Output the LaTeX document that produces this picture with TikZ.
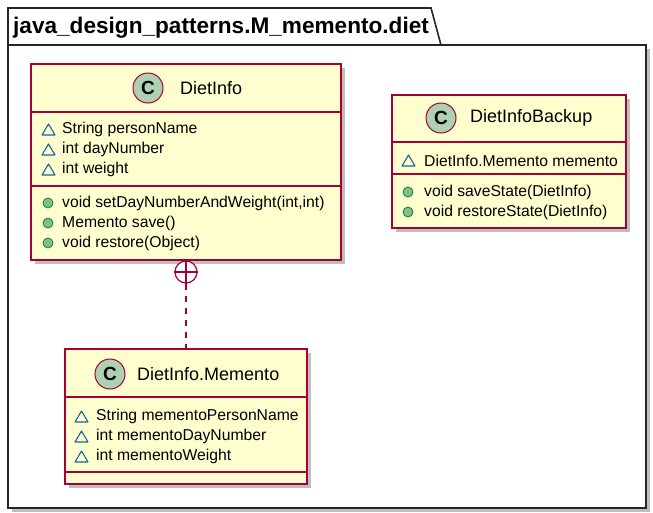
\documentclass[tikz,border=0pt]{standalone}
\usepackage{fontspec}
\setmainfont{Liberation Sans}
\usetikzlibrary{shadows}
\definecolor{cfill}{HTML}{FEFECE}
\definecolor{cborder}{HTML}{A80036}
\definecolor{circfill}{HTML}{ADD1B2}
\definecolor{privtri}{HTML}{1963A0}
\definecolor{pubfill}{HTML}{84BE84}
\definecolor{publine}{HTML}{038048}
\begin{document}
\begin{tikzpicture}[x=1pt,y=-1pt,
  classbox/.style={draw=cborder, line width=1.5pt, fill=cfill, inner sep=0pt,
    drop shadow={shadow xshift=4pt, shadow yshift=-4pt, opacity=0.25, fill=black}},
  sepline/.style={draw=cborder, line width=1.5pt},
  member/.style={anchor=west, inner sep=0pt, font=\fontsize{15.7}{18}\selectfont},
  cname/.style={anchor=west, inner sep=0pt, font=\fontsize{18}{20}\selectfont},
  spot/.style={circle, draw=cborder, fill=circfill, line width=1pt, minimum size=30pt,
    inner sep=0pt, font=\bfseries\fontsize{19}{19}\selectfont},
  pubicon/.style={circle, draw=publine, fill=pubfill, line width=0.8pt, minimum size=10pt, inner sep=0pt},
  privicon/.style={draw=privtri, line width=1.1pt, line join=round},
  pkgline/.style={draw=black!85, line width=1.6pt},
  nestlink/.style={draw=cborder, line width=1.2pt, dash pattern=on 6pt off 6pt}
]
\useasboundingbox (0,0) rectangle (653,512);

% package
\fill[black, opacity=0.25] (12,49) rectangle (650,512);
\filldraw[pkgline, fill=white] (8,45) -- (8,8) -- (431,8) -- (441,45) -- (646,45) -- (646,508) -- (8,508) -- cycle;
\draw[pkgline] (8,45) -- (441,45);
\node[anchor=base west, inner sep=0pt, font=\bfseries\fontsize{22.6}{24}\selectfont] (pkgtitle) at (13,33) {java\_design\_patterns.M\_memento.diet};

% DietInfo
\node[classbox, minimum width=310pt, minimum height=196pt] (dietinfo) at (186,162) {};
\draw[sepline] (31,112) -- (341,112);
\draw[sepline] (31,186) -- (341,186);
\node[spot] (dispot) at (148,88) {C};
\node[cname] (diname) at (180,88) {DietInfo};
\draw[privicon] (42,135) -- (48.5,124) -- (55,135) -- cycle;
\node[member] (dia1) at (62,129) {String personName};
\draw[privicon] (42,155) -- (48.5,144) -- (55,155) -- cycle;
\node[member] (dia2) at (62,149) {int dayNumber};
\draw[privicon] (42,175) -- (48.5,164) -- (55,175) -- cycle;
\node[member] (dia3) at (62,169) {int weight};
\node[pubicon] (dip1) at (48,203) {};
\node[member] (dim1) at (62,203) {void setDayNumberAndWeight(int,int)};
\node[pubicon] (dip2) at (48,223) {};
\node[member] (dim2) at (62,223) {Memento save()};
\node[pubicon] (dip3) at (48,243) {};
\node[member] (dim3) at (62,243) {void restore(Object)};

% DietInfoBackup
\node[classbox, minimum width=234pt, minimum height=133pt] (backup) at (509,161.5) {};
\draw[sepline] (392,142) -- (626,142);
\draw[sepline] (392,174) -- (626,174);
\node[spot] (bspot) at (441,118) {C};
\node[cname] (bname) at (470,118) {DietInfoBackup};
\draw[privicon] (402,166) -- (408.5,155) -- (415,166) -- cycle;
\node[member] (ba1) at (424,161) {DietInfo.Memento memento};
\node[pubicon] (bp1) at (408,192) {};
\node[member] (bm1) at (424,192) {void saveState(DietInfo)};
\node[pubicon] (bp2) at (408,212) {};
\node[member] (bm2) at (424,212) {void restoreState(DietInfo)};

% DietInfo.Memento
\node[classbox, minimum width=242pt, minimum height=135pt] (memento) at (186,416.5) {};
\draw[sepline] (65,397) -- (307,397);
\draw[sepline] (65,472) -- (307,472);
\node[spot] (mspot) at (110,374) {C};
\node[cname] (mname) at (137,374) {DietInfo.Memento};
\draw[privicon] (75,422) -- (81.5,411) -- (88,422) -- cycle;
\node[member] (ma1) at (96,416) {String mementoPersonName};
\draw[privicon] (75,442) -- (81.5,431) -- (88,442) -- cycle;
\node[member] (ma2) at (96,436) {int mementoDayNumber};
\draw[privicon] (75,462) -- (81.5,451) -- (88,462) -- cycle;
\node[member] (ma3) at (96,456) {int mementoWeight};

% nesting link
\node[circle, draw=cborder, fill=white, line width=1.2pt, minimum size=22pt, inner sep=0pt] (plus) at (186,272) {};
\draw[cborder, line width=1.2pt] (plus.north) -- (plus.south);
\draw[cborder, line width=1.2pt] (plus.west) -- (plus.east);
\draw[nestlink] (plus.south) -- (memento.north);
\end{tikzpicture}
\end{document}
